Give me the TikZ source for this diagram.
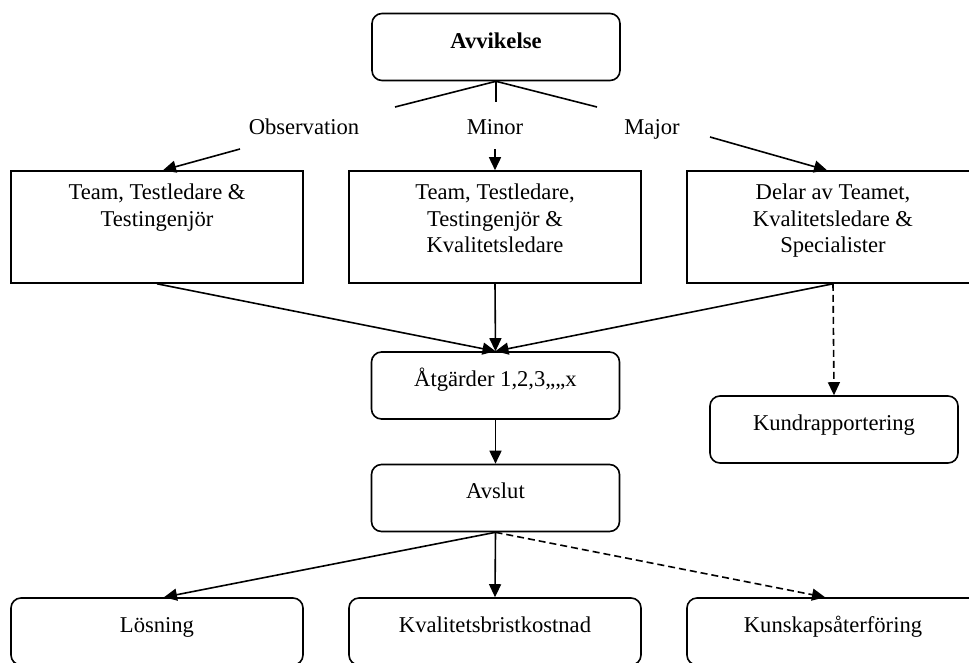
\documentclass[tikz,border=0pt]{standalone}
\usepackage{fontspec}
\setmainfont{Liberation Serif}
\usetikzlibrary{arrows.meta}

\tikzset{
  box/.style={draw, line width=1.6pt, inner sep=0pt, minimum width=292pt, minimum height=112pt},
  rbox/.style={draw, line width=1.6pt, rounded corners=10pt, inner sep=0pt, minimum width=248pt, minimum height=67pt},
  txt/.style={inner sep=0pt, align=center, font=\fontsize{22.6}{26.5}\selectfont},
  link/.style={line width=1.6pt},
  arr/.style={line width=1.6pt, -{Triangle[length=13pt,width=12pt]}},
  darr/.style={arr, dash pattern=on 7pt off 4pt}
}

\begin{document}
\begin{tikzpicture}[x=1pt, y=-1pt]
\useasboundingbox (0,0) rectangle (969,662);
\clip (0,0) rectangle (969,662);
\fill[white] (0,0) rectangle (969,662);

% top node
\node[rbox] (avv) at (496,47) {};
\node[txt, anchor=base, font=\fontsize{22.6}{26.5}\selectfont\bfseries] (avv-t) at (496,48) {Avvikelse};

% split under the top node
\coordinate (sL) at (395,107);
\coordinate (sM) at (496,102);
\coordinate (sR) at (597,107);
\draw[link] (avv.south) -- (sL);
\draw[link] (avv.south) -- (sM);
\draw[link] (avv.south) -- (sR);

% severity labels
\node[txt, anchor=base] (l-obs) at (304,134) {Observation};
\node[txt, anchor=base] (l-min) at (495,134) {Minor};
\node[txt, anchor=base] (l-maj) at (652,134) {Major};

% responsible groups
\node[box] (obs) at (157,227) {};
\node[box] (mid) at (495,227) {};
\node[box] (maj) at (833,227) {};
\node[txt, anchor=north] (obs-t) at (157,184) {Team, Testledare \&\\Testingenjör};
\node[txt, anchor=north] (mid-t) at (495,184) {Team, Testledare,\\Testingenjör \&\\Kvalitetsledare};
\node[txt, anchor=north] (maj-t) at (833,184) {Delar av Teamet,\\Kvalitetsledare \&\\Specialister};

\coordinate (aL) at (240,149);
\coordinate (aM) at (495,149);
\coordinate (aR) at (710,137);
\draw[arr] (aL) -- ([xshift=6pt]obs.north);
\draw[arr] (aM) -- (mid.north);
\draw[arr] (aR) -- ([xshift=-6pt]maj.north);

% actions, reporting and closing
\node[rbox] (atg) at (495.5,385.5) {};
\node[txt, anchor=base] (atg-t) at (495.5,386) {Åtgärder 1,2,3,,,,x};
\node[rbox] (kund) at (834,429.5) {};
\node[txt, anchor=base] (kund-t) at (834,430) {Kundrapportering};
\node[rbox] (avs) at (495.5,498) {};
\node[txt, anchor=base] (avs-t) at (495.5,498) {Avslut};

\draw[arr] (obs.south) -- (atg.north);
\draw[arr] (mid.south) -- (atg.north);
\draw[arr] (maj.south) -- (atg.north);
\draw[darr] (maj.south) -- (kund.north);
\draw[arr] (atg.south) -- (avs.north);

% outcomes
\node[rbox, minimum width=292pt] (los) at (157,631.5) {};
\node[rbox, minimum width=292pt] (kval) at (495,631.5) {};
\node[rbox, minimum width=292pt] (kunsk) at (833,631.5) {};
\node[txt, anchor=base] (los-t) at (157,632) {Lösning};
\node[txt, anchor=base] (kval-t) at (495,632) {Kvalitetsbristkostnad};
\node[txt, anchor=base] (kunsk-t) at (833,632) {Kunskapsåterföring};

\draw[arr] (avs.south) -- ([xshift=7pt]los.north);
\draw[arr] (avs.south) -- (kval.north);
\draw[darr] (avs.south) -- ([xshift=-8pt]kunsk.north);
\end{tikzpicture}
\end{document}
